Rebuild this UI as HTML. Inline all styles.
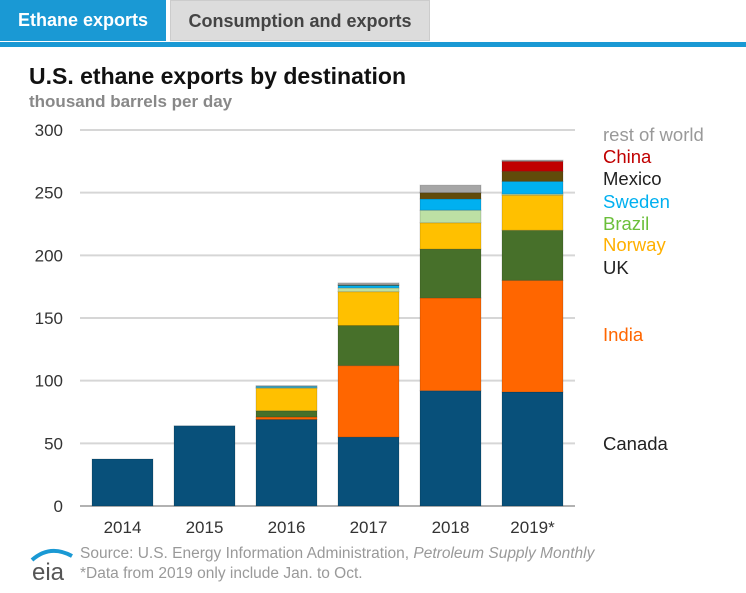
<!DOCTYPE html>
<html><head><meta charset="utf-8"><style>
body{margin:0;width:746px;height:593px;background:#fff;font-family:"Liberation Sans",Arial,sans-serif;overflow:hidden;position:relative}
.tab{position:absolute;top:0;height:41px;line-height:41px;font-weight:bold;font-size:18px;text-align:center}
</style></head><body>
<div class="tab" style="left:0;width:166px;background:#1a99d4;color:#fff">Ethane exports</div>
<div class="tab" style="left:170px;width:260px;background:#dcdcdc;color:#444;border:1px solid #ccc;box-sizing:border-box">Consumption and exports</div>
<div style="position:absolute;left:0;top:42px;width:746px;height:5px;background:#1a99d4"></div>
<div style="position:absolute;left:29px;top:63px;font-size:23px;font-weight:bold;color:#111">U.S. ethane exports by destination</div>
<div style="position:absolute;left:29px;top:92px;font-size:17px;font-weight:bold;color:#888">thousand barrels per day</div>
<svg id="chart" width="746" height="593" style="position:absolute;left:0;top:0"></svg>
<svg width="50" height="40" style="position:absolute;left:28px;top:546px">
<path d="M4 14 Q22 -2 44 10" stroke="#1a99d4" stroke-width="4" fill="none"/>
<text x="4" y="34" font-size="24" font-family="Liberation Sans" fill="#555">eia</text></svg>
<div style="position:absolute;left:80px;top:544px;font-size:15.5px;color:#999;line-height:20px">Source: U.S. Energy Information Administration, <i>Petroleum Supply Monthly</i><br>*Data from 2019 only include Jan. to Oct.</div>
<script>
const years=["2014","2015","2016","2017","2018","2019*"];
const seriesNames=["Canada","India","UK","Norway","Brazil","Sweden","Mexico","China","rest of world"];
const canada=[37.5,64,69,55,92,91];
const india=[0,0,2,57,74,89];
const uk=[0,0,5,32,39,40];
const norway=[0,0,18,27,21,28];
const brazil=[0,0,0.5,3,10,1];
const sweden=[0,0,1,2,9,10];
const mexico=[0,0,0,0.5,5,8];
const china=[0,0,0,0,0,8];
const rest=[0,0,0.5,1.5,6,1];
const yTicks=[0,50,100,150,200,250,300];
const colors=["#08507a","#ff6600","#47702a","#ffc000","#bde0a4","#00b0f0","#614b0a","#c00000","#a6a6a6"];
const labelColors=["#222","#ff6600","#222","#ffb000","#6bbf3a","#00b0f0","#222","#c00000","#999"];
const labelY=[444,335,268,245,224,202,179,157,135];
const series=[canada,india,uk,norway,brazil,sweden,mexico,china,rest];
const svg=document.getElementById('chart');const NS="http://www.w3.org/2000/svg";
const y=v=>506-v*376/300;const x=i=>92+i*82;const bw=61;
function mk(t,a){const e=document.createElementNS(NS,t);for(const k in a)e.setAttribute(k,a[k]);svg.appendChild(e);return e;}
yTicks.forEach(t=>{
 const l=mk('line',{x1:80,x2:575,y1:y(t),y2:y(t),stroke:t===0?'#999':'#d6d6d6','stroke-width':t===0?1.5:2});
 
 
 const tx=mk('text',{x:63,y:y(t)+6,'text-anchor':'end','font-size':17,fill:'#333'});tx.textContent=t;
 
 
});
years.forEach((yr,i)=>{
 let acc=0;
 series.forEach((s,j)=>{const v=s[i];if(v<=0)return;
  const r=mk('rect',{x:x(i),y:y(acc+v),width:bw,height:v*376/300,fill:colors[j],stroke:'rgba(0,0,0,0.15)','stroke-width':1});
  
  
  acc+=v;});
 const tx=mk('text',{x:x(i)+bw/2,y:533,'text-anchor':'middle','font-size':17,fill:'#333'});tx.textContent=yr;
 
 
});
seriesNames.forEach((n,j)=>{
 const tx=mk('text',{x:603,y:labelY[j]+6,'font-size':18.5,fill:labelColors[j]});tx.textContent=n;
 
 
});
</script>
</body></html>
